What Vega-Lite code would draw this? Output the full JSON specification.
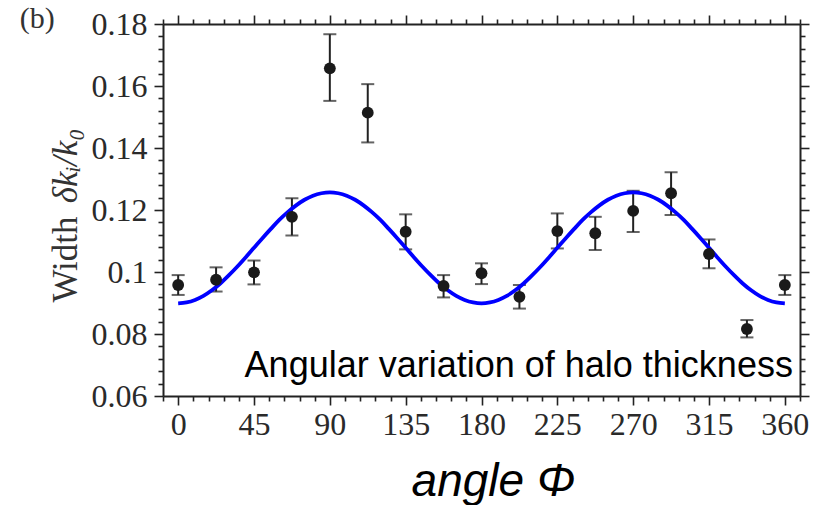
{
  "$schema": "https://vega.github.io/schema/vega-lite/v6.json",
  "width": 637,
  "height": 372,
  "autosize": {"type": "none"},
  "padding": {"left": 163, "top": 24, "right": 26, "bottom": 109},
  "background": "white",
  "datasets": {
    "pts": [
      {"phi": 0, "w": 0.0958, "lo": 0.0926, "hi": 0.0990},
      {"phi": 22.5, "w": 0.0975, "lo": 0.0937, "hi": 0.1015},
      {"phi": 45, "w": 0.0999, "lo": 0.0960, "hi": 0.1037},
      {"phi": 67.5, "w": 0.1178, "lo": 0.1118, "hi": 0.1238},
      {"phi": 90, "w": 0.1657, "lo": 0.1552, "hi": 0.1767},
      {"phi": 112.5, "w": 0.1514, "lo": 0.1418, "hi": 0.1606},
      {"phi": 135, "w": 0.1130, "lo": 0.1073, "hi": 0.1186},
      {"phi": 157.5, "w": 0.0955, "lo": 0.0918, "hi": 0.0990},
      {"phi": 180, "w": 0.0996, "lo": 0.0961, "hi": 0.1028},
      {"phi": 202.5, "w": 0.0920, "lo": 0.0882, "hi": 0.0958},
      {"phi": 225, "w": 0.1132, "lo": 0.1076, "hi": 0.1189},
      {"phi": 247.5, "w": 0.1125, "lo": 0.1071, "hi": 0.1178},
      {"phi": 270, "w": 0.1197, "lo": 0.1129, "hi": 0.1262},
      {"phi": 292.5, "w": 0.1254, "lo": 0.1184, "hi": 0.1322},
      {"phi": 315, "w": 0.1058, "lo": 0.1012, "hi": 0.1105},
      {"phi": 337.5, "w": 0.0816, "lo": 0.0789, "hi": 0.0845},
      {"phi": 360, "w": 0.0958, "lo": 0.0926, "hi": 0.0990}
    ],
    "fit": [
      {"phi": 0, "c": 0.0899}, {"phi": 5, "c": 0.0902}, {"phi": 10, "c": 0.0910}, {"phi": 15, "c": 0.0923},
      {"phi": 20, "c": 0.0941}, {"phi": 25, "c": 0.0963}, {"phi": 30, "c": 0.0989}, {"phi": 35, "c": 0.1017},
      {"phi": 40, "c": 0.1047}, {"phi": 45, "c": 0.1078}, {"phi": 50, "c": 0.1109}, {"phi": 55, "c": 0.1139},
      {"phi": 60, "c": 0.1168}, {"phi": 65, "c": 0.1193}, {"phi": 70, "c": 0.1215}, {"phi": 75, "c": 0.1233},
      {"phi": 80, "c": 0.1246}, {"phi": 85, "c": 0.1254}, {"phi": 90, "c": 0.1257}, {"phi": 95, "c": 0.1254},
      {"phi": 100, "c": 0.1246}, {"phi": 105, "c": 0.1233}, {"phi": 110, "c": 0.1215}, {"phi": 115, "c": 0.1193},
      {"phi": 120, "c": 0.1168}, {"phi": 125, "c": 0.1139}, {"phi": 130, "c": 0.1109}, {"phi": 135, "c": 0.1078},
      {"phi": 140, "c": 0.1047}, {"phi": 145, "c": 0.1017}, {"phi": 150, "c": 0.0989}, {"phi": 155, "c": 0.0963},
      {"phi": 160, "c": 0.0941}, {"phi": 165, "c": 0.0923}, {"phi": 170, "c": 0.0910}, {"phi": 175, "c": 0.0902},
      {"phi": 180, "c": 0.0899}, {"phi": 185, "c": 0.0902}, {"phi": 190, "c": 0.0910}, {"phi": 195, "c": 0.0923},
      {"phi": 200, "c": 0.0941}, {"phi": 205, "c": 0.0963}, {"phi": 210, "c": 0.0989}, {"phi": 215, "c": 0.1017},
      {"phi": 220, "c": 0.1047}, {"phi": 225, "c": 0.1078}, {"phi": 230, "c": 0.1109}, {"phi": 235, "c": 0.1139},
      {"phi": 240, "c": 0.1168}, {"phi": 245, "c": 0.1193}, {"phi": 250, "c": 0.1215}, {"phi": 255, "c": 0.1233},
      {"phi": 260, "c": 0.1246}, {"phi": 265, "c": 0.1254}, {"phi": 270, "c": 0.1257}, {"phi": 275, "c": 0.1254},
      {"phi": 280, "c": 0.1246}, {"phi": 285, "c": 0.1233}, {"phi": 290, "c": 0.1215}, {"phi": 295, "c": 0.1193},
      {"phi": 300, "c": 0.1168}, {"phi": 305, "c": 0.1139}, {"phi": 310, "c": 0.1109}, {"phi": 315, "c": 0.1078},
      {"phi": 320, "c": 0.1047}, {"phi": 325, "c": 0.1017}, {"phi": 330, "c": 0.0989}, {"phi": 335, "c": 0.0963},
      {"phi": 340, "c": 0.0941}, {"phi": 345, "c": 0.0923}, {"phi": 350, "c": 0.0910}, {"phi": 355, "c": 0.0902},
      {"phi": 360, "c": 0.0899}
    ]
  },
  "resolve": {"axis": {"x": "independent", "y": "independent"}},
  "layer": [
    {
      "data": {"name": "pts"},
      "mark": {"type": "rule", "color": "#222222", "strokeWidth": 2},
      "encoding": {
        "x": {
          "field": "phi", "type": "quantitative",
          "scale": {"domain": [-9, 369], "nice": false, "zero": false},
          "axis": {
            "orient": "bottom",
            "values": [-9, 0, 9, 18, 27, 36, 45, 54, 63, 72, 81, 90, 99, 108, 117, 126, 135, 144, 153, 162, 171, 180, 189, 198, 207, 216, 225, 234, 243, 252, 261, 270, 279, 288, 297, 306, 315, 324, 333, 342, 351, 360, 369],
            "labelExpr": "datum.value % 45 === 0 ? format(datum.value, 'd') : ''",
            "tickSize": {"condition": {"test": "datum.value % 45 === 0", "value": 9}, "value": 5},
            "labelPadding": 4,
            "labelOverlap": false,
            "labelFlush": false,
            "title": "angle Φ",
            "titleFont": "Liberation Sans",
            "titleFontStyle": "italic",
            "titleFontWeight": "normal",
            "titleFontSize": 46,
            "titleColor": "#000000",
            "titleAlign": "center",
            "titleBaseline": "alphabetic",
            "titleX": 330,
            "titleY": 99
          }
        },
        "y": {
          "field": "lo", "type": "quantitative",
          "scale": {"domain": [0.06, 0.18], "nice": false, "zero": false},
          "axis": {
            "orient": "left",
            "values": [0.06, 0.064, 0.068, 0.072, 0.076, 0.08, 0.084, 0.088, 0.092, 0.096, 0.1, 0.104, 0.108, 0.112, 0.116, 0.12, 0.124, 0.128, 0.132, 0.136, 0.14, 0.144, 0.148, 0.152, 0.156, 0.16, 0.164, 0.168, 0.172, 0.176, 0.18],
            "labelExpr": "round(datum.value * 1000) % 20 === 0 ? format(datum.value, '.2~f') : ''",
            "tickSize": {"condition": {"test": "round(datum.value * 1000) % 20 === 0", "value": 9}, "value": 5},
            "labelPadding": 7,
            "labelOverlap": false,
            "labelFlush": false,
            "title": "Width",
            "titleFont": "Liberation Serif",
            "titleFontWeight": "normal",
            "titleFontSize": 35,
            "titleColor": "#333333",
            "titleAngle": 270,
            "titleAlign": "center",
            "titleBaseline": "alphabetic",
            "titleX": -87,
            "titleY": 235
          }
        },
        "y2": {"field": "hi"}
      }
    },
    {
      "data": {"name": "pts"},
      "mark": {"type": "tick", "orient": "horizontal", "color": "#222222", "size": 13, "thickness": 2},
      "encoding": {
        "x": {"field": "phi", "type": "quantitative", "scale": {"domain": [-9, 369], "nice": false, "zero": false}, "axis": null},
        "y": {"field": "lo", "type": "quantitative", "scale": {"domain": [0.06, 0.18], "nice": false, "zero": false}, "axis": null}
      }
    },
    {
      "data": {"name": "pts"},
      "mark": {"type": "tick", "orient": "horizontal", "color": "#222222", "size": 13, "thickness": 2},
      "encoding": {
        "x": {"field": "phi", "type": "quantitative", "scale": {"domain": [-9, 369], "nice": false, "zero": false}, "axis": null},
        "y": {"field": "hi", "type": "quantitative", "scale": {"domain": [0.06, 0.18], "nice": false, "zero": false}, "axis": null}
      }
    },
    {
      "data": {"name": "fit"},
      "mark": {"type": "line", "color": "#0000ff", "strokeWidth": 3.8, "interpolate": "monotone"},
      "encoding": {
        "x": {
          "field": "phi", "type": "quantitative",
          "scale": {"domain": [-9, 369], "nice": false, "zero": false},
          "axis": {
            "orient": "top",
            "values": [-9, 0, 9, 18, 27, 36, 45, 54, 63, 72, 81, 90, 99, 108, 117, 126, 135, 144, 153, 162, 171, 180, 189, 198, 207, 216, 225, 234, 243, 252, 261, 270, 279, 288, 297, 306, 315, 324, 333, 342, 351, 360, 369],
            "labels": false,
            "tickSize": {"condition": {"test": "datum.value % 45 === 0", "value": 9}, "value": 5},
            "title": null
          }
        },
        "y": {
          "field": "c", "type": "quantitative",
          "scale": {"domain": [0.06, 0.18], "nice": false, "zero": false},
          "axis": {
            "orient": "right",
            "values": [0.06, 0.064, 0.068, 0.072, 0.076, 0.08, 0.084, 0.088, 0.092, 0.096, 0.1, 0.104, 0.108, 0.112, 0.116, 0.12, 0.124, 0.128, 0.132, 0.136, 0.14, 0.144, 0.148, 0.152, 0.156, 0.16, 0.164, 0.168, 0.172, 0.176, 0.18],
            "labels": false,
            "tickSize": {"condition": {"test": "round(datum.value * 1000) % 20 === 0", "value": 9}, "value": 5},
            "title": null
          }
        }
      }
    },
    {
      "data": {"name": "pts"},
      "mark": {"type": "circle", "color": "#1a1a1a", "opacity": 1, "size": 140},
      "encoding": {
        "x": {"field": "phi", "type": "quantitative", "scale": {"domain": [-9, 369], "nice": false, "zero": false}, "axis": null},
        "y": {"field": "w", "type": "quantitative", "scale": {"domain": [0.06, 0.18], "nice": false, "zero": false}, "axis": null}
      }
    },
    {
      "data": {"values": [{"label": "Angular variation of halo thickness"}]},
      "mark": {"type": "text", "font": "Liberation Sans", "fontSize": 36, "color": "#000000", "align": "right", "baseline": "alphabetic"},
      "encoding": {
        "text": {"field": "label"},
        "x": {"datum": 364.8, "type": "quantitative", "scale": {"domain": [-9, 369], "nice": false, "zero": false}, "axis": null},
        "y": {"datum": 0.0661, "type": "quantitative", "scale": {"domain": [0.06, 0.18], "nice": false, "zero": false}, "axis": null}
      }
    },
    {
      "data": {"values": [{"label": "δkᵢ/k₀"}]},
      "mark": {"type": "text", "font": "Liberation Serif", "fontStyle": "italic", "fontSize": 35, "color": "#333333", "align": "center", "baseline": "alphabetic", "angle": 270},
      "encoding": {
        "text": {"field": "label"},
        "x": {"datum": -60, "type": "quantitative", "scale": {"domain": [-9, 369], "nice": false, "zero": false}, "axis": null},
        "y": {"datum": 0.1342, "type": "quantitative", "scale": {"domain": [0.06, 0.18], "nice": false, "zero": false}, "axis": null}
      }
    },
    {
      "data": {"values": [{"label": "(b)"}]},
      "mark": {"type": "text", "font": "Liberation Serif", "fontSize": 30, "color": "#333333", "align": "left", "baseline": "alphabetic"},
      "encoding": {
        "text": {"field": "label"},
        "x": {"datum": -94, "type": "quantitative", "scale": {"domain": [-9, 369], "nice": false, "zero": false}, "axis": null},
        "y": {"datum": 0.1787, "type": "quantitative", "scale": {"domain": [0.06, 0.18], "nice": false, "zero": false}, "axis": null}
      }
    }
  ],
  "config": {
    "view": {"stroke": null},
    "axis": {
      "grid": false,
      "domainColor": "#222222",
      "domainWidth": 2,
      "tickColor": "#222222",
      "tickWidth": 1.6,
      "labelFont": "Liberation Serif",
      "labelFontSize": 32,
      "labelColor": "#2a2a2a"
    }
  }
}
